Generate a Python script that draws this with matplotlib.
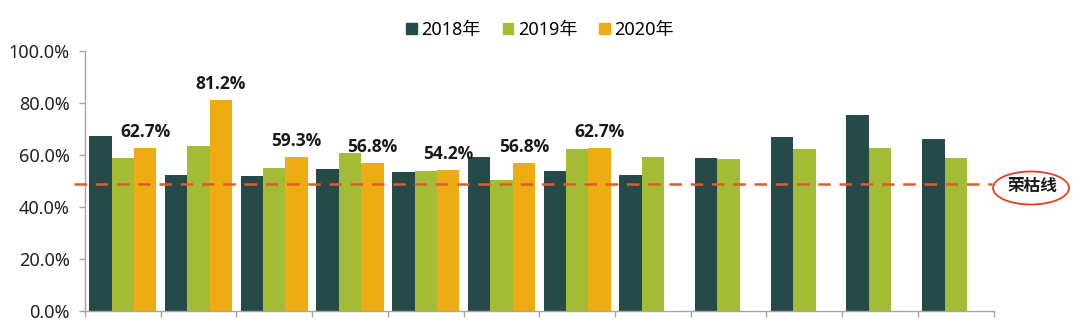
import matplotlib.pyplot as plt
import numpy as np
from matplotlib.patches import Ellipse, Patch

plt.rcParams['font.family'] = ['Noto Sans', 'Noto Sans CJK SC', 'DejaVu Sans']

# values (percent)
series_names = ['2018年', '2019年', '2020年']
v2018 = [67.2, 52.1, 51.8, 54.5, 53.5, 59.0, 53.9, 52.1, 58.8, 66.8, 75.2, 66.0]
v2019 = [58.7, 63.4, 55.0, 60.8, 53.8, 50.3, 62.1, 59.3, 58.4, 62.1, 62.5, 58.8]
v2020 = [62.7, 81.2, 59.3, 56.8, 54.2, 56.8, 62.7]
boom_line = 48.8
colors = ['#264a48', '#a4bb35', '#edac12']

fig = plt.figure(figsize=(10.8, 3.25), dpi=100)
ax = fig.add_axes([0.0787, 0.0437, 0.8413, 0.8003])

n = len(v2018)
x = np.arange(n)
w = 0.296
ax.bar(x - w, v2018, w, color=colors[0])
ax.bar(x, v2019, w, color=colors[1])
x20 = np.arange(len(v2020))
bars = ax.bar(x20 + w, v2020, w, color=colors[2])
for b, v in zip(bars, v2020):
    ax.annotate(f'{v:.1f}%', (b.get_x() + b.get_width() / 2, v),
                xytext=(0, 5), textcoords='offset points',
                ha='center', va='bottom', fontsize=12.5, fontweight='bold',
                color='#1a1a1a', family=['Open Sans', 'DejaVu Sans'])

# 荣枯线
ax.axhline(boom_line, xmin=-0.012, xmax=0.998, color='#e05a2b', lw=1.8,
           dashes=(5, 3.5), clip_on=False, zorder=3)
ell = Ellipse((1031 / 1080, 1 - 188 / 325), 76 / 1080, 33 / 325,
              transform=fig.transFigure, facecolor='white',
              edgecolor='#e0402a', lw=1.3)
fig.add_artist(ell)
fig.text(1032 / 1080, 1 - 186 / 325, '荣枯线', ha='center', va='center',
         fontsize=12, fontweight='bold', color='#1a1a1a',
         family=['Noto Sans CJK SC', 'DejaVu Sans'])

ax.set_xlim(-0.5, n - 0.5)
ax.set_ylim(0, 100)
ax.set_yticks(np.arange(0, 101, 20))
ax.set_yticklabels([f'{t:.1f}%' for t in range(0, 101, 20)], fontsize=13,
                   color='#222222')
ax.set_xticks(np.arange(-0.5, n, 1.0))
ax.set_xticklabels([])
ax.tick_params(axis='both', direction='out', length=4, color='#a6a6a6',
               width=1)
ax.tick_params(axis='y', pad=7)
for s in ['top', 'right']:
    ax.spines[s].set_visible(False)
for s in ['left', 'bottom']:
    ax.spines[s].set_color('#a6a6a6')
    ax.spines[s].set_linewidth(1)

handles = [Patch(color=c) for c in colors]
fig.legend(handles, series_names, loc='center', bbox_to_anchor=(0.5, 1 - 30 / 325),
           ncol=3, frameon=False, fontsize=13, handlelength=0.6,
           handleheight=0.6, handletextpad=0.25, columnspacing=1.2)

fig.savefig('out.png', dpi=100)
